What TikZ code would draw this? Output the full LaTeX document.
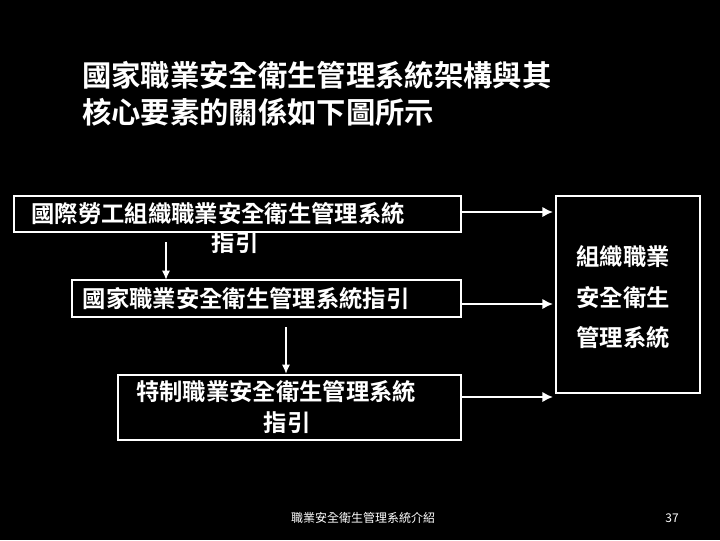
\documentclass[tikz,border=0pt]{standalone}
\usepackage{fontspec}
\usetikzlibrary{arrows.meta}
\setmainfont{Noto Sans CJK TC}[BoldFont={Noto Sans CJK TC Bold}]
\begin{document}
\begin{tikzpicture}[x=0.75pt,y=-0.75pt,
  txt/.style={text=white,font=\fontsize{17.5}{20}\selectfont\bfseries,inner sep=0pt},
  arr/.style={draw=white,line width=2pt,-{Latex[length=8pt,width=8pt]}},
  thin/.style={draw=white,line width=1.2pt,-{Latex[length=7pt,width=6pt]}}]
\fill[black] (0,0) rectangle (720,540);
\node[txt,anchor=west,font=\fontsize{22}{26}\selectfont\bfseries] (t1) at (82,75) {國家職業安全衛生管理系統架構與其};
\node[txt,anchor=west,font=\fontsize{22}{26}\selectfont\bfseries] (t2) at (82,112) {核心要素的關係如下圖所示};
\draw[white,line width=0.8pt] (14,196) rectangle (461,232);
\node[txt] (b1a) at (218,214) {國際勞工組織職業安全衛生管理系統};
\node[txt] (b1b) at (235,243) {指引};
\draw[white,line width=0.8pt] (72,280) rectangle (461,317);
\node[txt] (b2) at (246,299) {國家職業安全衛生管理系統指引};
\draw[white,line width=0.8pt] (118,375) rectangle (461,440);
\node[txt] (b3a) at (276,392) {特制職業安全衛生管理系統};
\node[txt] (b3b) at (287,423) {指引};
\draw[white,line width=0.8pt] (556,196) rectangle (700,393);
\node[txt] (r1) at (623,257) {組織職業};
\node[txt] (r2) at (623,298) {安全衛生};
\node[txt] (r3) at (623,338) {管理系統};
\coordinate (a1s) at (461,212); \coordinate (a1e) at (553,212);
\coordinate (a2s) at (461,304); \coordinate (a2e) at (553,304);
\coordinate (a3s) at (461,397); \coordinate (a3e) at (553,397);
\draw[arr] (a1s) -- (a1e);
\draw[arr] (a2s) -- (a2e);
\draw[arr] (a3s) -- (a3e);
\coordinate (d1s) at (166,242); \coordinate (d1e) at (166,280);
\coordinate (d2s) at (286,327); \coordinate (d2e) at (286,374);
\draw[thin] (d1s) -- (d1e);
\draw[thin] (d2s) -- (d2e);
\node[text=white,font=\fontsize{9}{11}\selectfont] (f) at (363,518) {職業安全衛生管理系統介紹};
\node[text=white,font=\fontsize{9}{11}\selectfont] (n) at (672,518) {37};
\end{tikzpicture}
\end{document}
